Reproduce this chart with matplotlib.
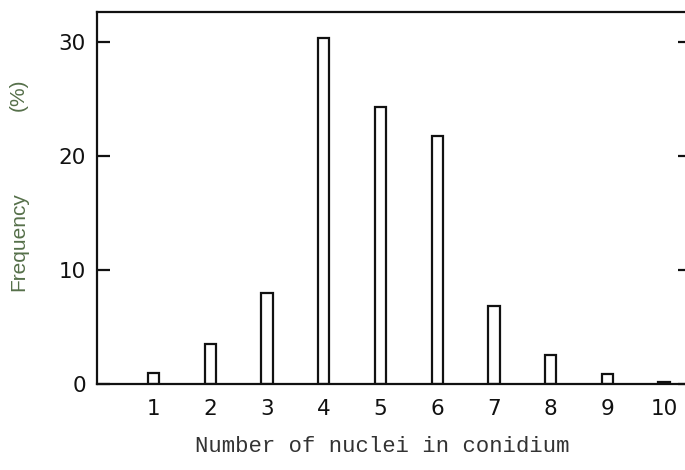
import matplotlib.pyplot as plt

# data
nuclei = [1, 2, 3, 4, 5, 6, 7, 8, 9, 10]
frequency = [1.0, 3.5, 8.0, 30.3, 24.3, 21.7, 6.8, 2.5, 0.85, 0.2]
y_ticks = [0, 10, 20, 30]

fig = plt.figure(figsize=(6.85, 4.7), dpi=100)
ax = fig.add_axes([0.1416, 0.183, 0.865, 0.7915])

ax.bar(nuclei, frequency, width=0.2, facecolor="white", edgecolor="#111111", linewidth=1.6)

ax.set_xlim(0, 10.45)
ax.set_ylim(0, 32.6)
ax.set_xticks(nuclei)
ax.set_yticks(y_ticks)

for s in ax.spines.values():
    s.set_linewidth(1.6)
    s.set_color("#111111")

ax.tick_params(axis="y", direction="in", length=9, width=1.6, right=True, pad=8,
               labelsize=15.5, colors="#111111")
ax.tick_params(axis="x", length=0, pad=11, labelsize=15.5, colors="#111111")
for lab in ax.get_xticklabels() + ax.get_yticklabels():
    lab.set_family("DejaVu Sans")

# axis titles
fig.text(0.558, 0.049, "Number of nuclei in conidium", family="Liberation Mono",
         fontsize=16, color="#333333", ha="center", va="center")
fig.text(0.027, 1 - 241.5 / 470, "Frequency", family="Liberation Sans",
         fontsize=15, color="#56704a", rotation=90, ha="center", va="center")
fig.text(0.027, 1 - 95 / 470, "(%)", family="Liberation Sans",
         fontsize=15, color="#56704a", rotation=90, ha="center", va="center")

plt.savefig("out.png")
